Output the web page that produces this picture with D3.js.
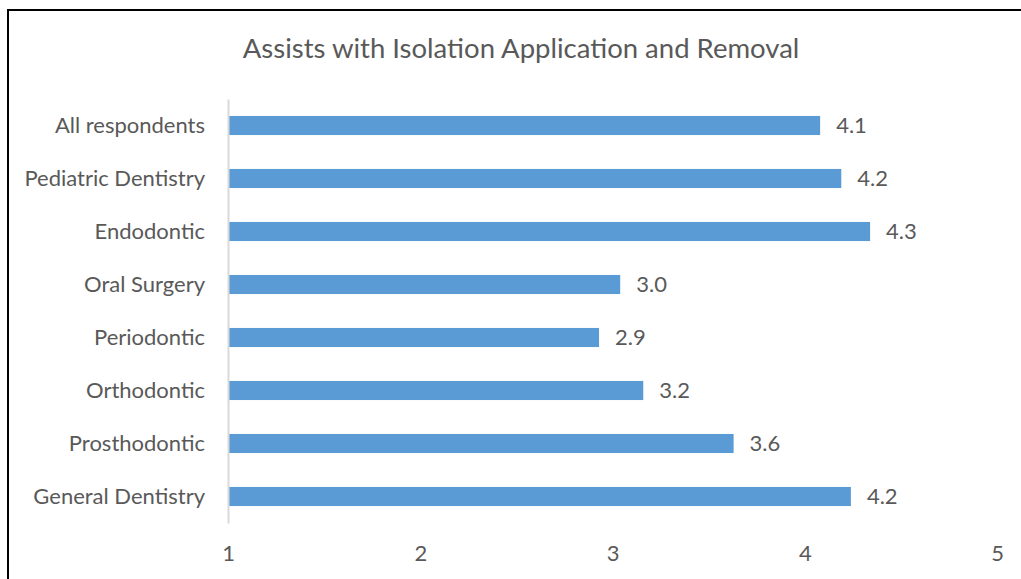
<!DOCTYPE html>
<html>
<head>
<meta charset="utf-8">
<script src="https://cdn.jsdelivr.net/npm/d3@7"></script>
<style>
    body { margin: 0; background: #fff; }
    svg { display: block; }
</style>
</head>
<body>
<svg id="canvas" width="1021" height="579"></svg>
<script>
// chart data
var chartTitle = 'Assists with Isolation Application and Removal';
var categories = ['All respondents', 'Pediatric Dentistry', 'Endodontic', 'Oral Surgery',
    'Periodontic', 'Orthodontic', 'Prosthodontic', 'General Dentistry'];
var scores = [4.08, 4.19, 4.34, 3.04, 2.93, 3.16, 3.63, 4.24];
var tickValues = [1, 2, 3, 4, 5];

(function drawChart() {
    "use strict";

    var FONT = 'Lato, "Open Sans", sans-serif';
    var TEXT_COLOR = '#595959';
    var BAR_COLOR = '#5b9bd5';

    var svg = d3.select(document.getElementById('canvas'));

    // frame, runs past the right and bottom edge like the screenshot
    svg.append('rect')
        .attr('x', 8)
        .attr('y', 10)
        .attr('width', 1040)
        .attr('height', 620)
        .attr('fill', 'none')
        .attr('stroke', '#000')
        .attr('stroke-width', 2);

    svg.append('text')
        .attr('x', 521)
        .attr('y', 58)
        .attr('text-anchor', 'middle')
        .attr('font-family', FONT)
        .attr('font-size', '27.5px')
        .attr('fill', TEXT_COLOR)
        .text(chartTitle);

    var x = d3.scaleLinear()
        .domain([1, 5])
        .range([228, 997]);

    var y = d3.scaleBand()
        .domain(categories)
        .range([99, 523])
        .paddingInner(0.64)
        .paddingOuter(0.32);

    // bars
    svg.selectAll('rect.bar')
        .data(scores)
        .enter().append('rect')
        .attr('class', 'bar')
        .attr('x', x(1))
        .attr('y', function(d, i) { return y(categories[i]); })
        .attr('width', function(d) { return x(d) - x(1); })
        .attr('height', y.bandwidth())
        .attr('fill', BAR_COLOR);

    // value labels
    svg.selectAll('text.value')
        .data(scores)
        .enter().append('text')
        .attr('class', 'value')
        .attr('x', function(d) { return x(d) + 16; })
        .attr('y', function(d, i) { return y(categories[i]) + y.bandwidth() / 2; })
        .attr('dy', '0.36em')
        .attr('font-family', FONT)
        .attr('font-size', '22px')
        .attr('fill', TEXT_COLOR)
        .text(function(d) { return d.toFixed(1); });

    // category axis
    var yAxis = svg.append('g')
        .attr('transform', 'translate(' + x(1) + ',0)')
        .call(d3.axisLeft(y).tickSize(0).tickPadding(23));
    yAxis.select('.domain')
        .attr('stroke', '#d9d9d9')
        .attr('stroke-width', 2);
    yAxis.selectAll('text')
        .attr('font-family', FONT)
        .attr('font-size', '22px')
        .attr('fill', TEXT_COLOR);

    // value axis, labels only
    var xAxis = svg.append('g')
        .attr('transform', 'translate(0,' + 534 + ')')
        .call(d3.axisBottom(x).tickValues(tickValues).tickFormat(d3.format('d')).tickSize(0).tickPadding(11));
    xAxis.select('.domain').remove();
    xAxis.selectAll('text')
        .attr('font-family', FONT)
        .attr('font-size', '22px')
        .attr('fill', TEXT_COLOR);
})();
</script>
</body>
</html>
